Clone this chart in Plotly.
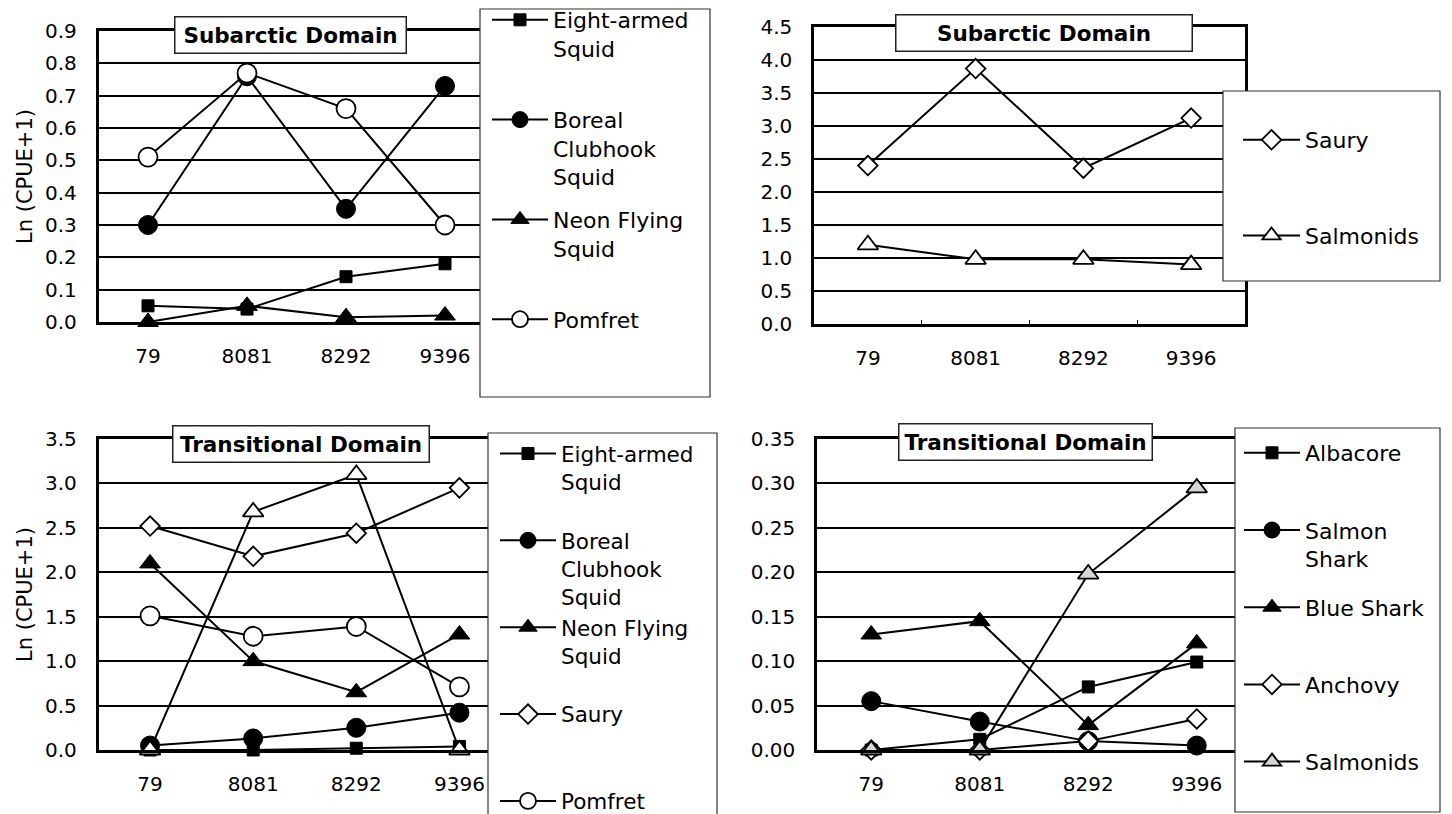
import plotly.graph_objects as go

# ---------------- data ----------------
years = ["79", "8081", "8292", "9396"]

# Panel 1: Subarctic Domain (squids & pomfret)
p1_eight_armed = [0.05, 0.04, 0.14, 0.18]
p1_boreal = [0.30, 0.76, 0.35, 0.73]
p1_neon = [0.0, 0.05, 0.015, 0.02]
p1_pomfret = [0.51, 0.77, 0.66, 0.30]

# Panel 2: Subarctic Domain (saury & salmonids)
p2_saury = [2.40, 3.87, 2.36, 3.12]
p2_salmonids = [1.20, 0.98, 0.98, 0.90]

# Panel 3: Transitional Domain (squids, saury, pomfret)
p3_eight_armed = [0.0, 0.0, 0.02, 0.04]
p3_boreal = [0.05, 0.13, 0.25, 0.42]
p3_neon = [2.10, 1.00, 0.65, 1.30]
p3_saury = [2.52, 2.18, 2.44, 2.95]
p3_pomfret = [1.51, 1.28, 1.39, 0.71]
p3_salmonids = [0.0, 2.68, 3.10, 0.0]

# Panel 4: Transitional Domain (sharks, albacore, anchovy, salmonids)
p4_albacore = [0.0, 0.012, 0.071, 0.099]
p4_salmon_shark = [0.055, 0.032, 0.010, 0.005]
p4_blue_shark = [0.13, 0.145, 0.028, 0.12]
p4_anchovy = [0.0, 0.0, 0.010, 0.035]
p4_salmonids = [0.0, 0.0, 0.198, 0.295]

W, H = 1452, 814
FONT = "DejaVu Sans"


def fx(p):
    return p / W


def fy(p):
    return 1 - p / H


STY = {
    "sq": dict(symbol="square", size=12, color="black", line=dict(color="black", width=1)),
    "ci": dict(symbol="circle", size=19, color="black", line=dict(color="black", width=1)),
    "tr": dict(symbol="triangle-up", size=18, color="black", line=dict(color="black", width=1)),
    "oc": dict(symbol="circle", size=19, color="white", line=dict(color="black", width=1.8)),
    "od": dict(symbol="diamond", size=15, color="white", line=dict(color="black", width=1.8)),
    "ot": dict(symbol="triangle-up", size=18, color="white", line=dict(color="black", width=1.8)),
    "gt": dict(symbol="triangle-up", size=18, color="#d6d6d6", line=dict(color="black", width=1.8)),
}

fig = go.Figure()
gid = [0]


def add(vals, name, sty, n, legend, show=True):
    gid[0] += 1
    fig.add_trace(go.Scatter(
        x=years, y=vals, name=name, mode="lines+markers",
        line=dict(color="black", width=2),
        marker=STY[sty],
        xaxis="x" if n == 1 else f"x{n}",
        yaxis="y" if n == 1 else f"y{n}",
        legend=legend, legendgroup=f"g{gid[0]}", showlegend=show,
        cliponaxis=False,
    ))


add(p1_eight_armed, "Eight-armed<br>Squid<br> ", "sq", 1, "legend")
add(p1_boreal, "Boreal<br>Clubhook<br>Squid", "ci", 1, "legend")
add(p1_neon, "Neon Flying<br>Squid<br> ", "tr", 1, "legend")
add(p1_pomfret, "Pomfret<br> <br> ", "oc", 1, "legend")

add(p2_saury, "Saury", "od", 2, "legend2")
add(p2_salmonids, "Salmonids", "ot", 2, "legend2")

add(p3_eight_armed, "Eight-armed<br>Squid<br> ", "sq", 3, "legend3")
add(p3_boreal, "Boreal<br>Clubhook<br>Squid", "ci", 3, "legend3")
add(p3_neon, "Neon Flying<br>Squid<br> ", "tr", 3, "legend3")
add(p3_saury, "Saury<br> <br> ", "od", 3, "legend3")
add(p3_pomfret, "Pomfret", "oc", 3, "legend3")
add(p3_salmonids, "Salmonids", "ot", 3, "legend3", show=False)

add(p4_albacore, "Albacore<br> ", "sq", 4, "legend4")
add(p4_salmon_shark, "Salmon<br>Shark", "ci", 4, "legend4")
add(p4_blue_shark, "Blue Shark<br> ", "tr", 4, "legend4")
add(p4_anchovy, "Anchovy<br> ", "od", 4, "legend4")
add(p4_salmonids, "Salmonids<br> ", "gt", 4, "legend4")


def xax(dom, anchor, ticks=""):
    return dict(
        domain=[fx(dom[0]), fx(dom[1])], anchor=anchor, type="category",
        range=[-0.5, 3.5], showline=True, mirror=True, linecolor="black",
        linewidth=2.5, showgrid=False, ticks=ticks, tickson="boundaries",
        ticklen=4, tickcolor="black", ticklabelstandoff=14,
        tickfont=dict(family=FONT, size=20, color="black"), zeroline=False,
        fixedrange=True,
    )


def yax(dom, anchor, rng, dtick, fmt):
    return dict(
        domain=[fy(dom[1]), fy(dom[0])], anchor=anchor, range=rng,
        dtick=dtick, tick0=0, tickformat=fmt, showline=True, mirror=True,
        linecolor="black", linewidth=2.5, showgrid=True, gridcolor="black",
        gridwidth=1.5, zeroline=False, ticks="", ticklabelstandoff=15,
        tickfont=dict(family=FONT, size=20, color="black"), fixedrange=True,
    )


def leg(x, y, gap, itemwidth=56, size=22):
    return dict(
        x=fx(x), y=fy(y), xref="paper", yref="paper", xanchor="left",
        yanchor="top", bgcolor="rgba(0,0,0,0)", borderwidth=0,
        font=dict(family=FONT, size=size, color="black"),
        tracegroupgap=gap, itemwidth=itemwidth, valign="top",
        itemclick=False, itemdoubleclick=False,
    )


shapes = []
for (x0, y0, x1, y1) in [(480, 9, 710, 397), (1223, 91, 1440, 281),
                         (488, 433, 717, 840), (1235, 428, 1440, 812)]:
    shapes.append(dict(
        type="rect", xref="paper", yref="paper", x0=fx(x0), x1=fx(x1),
        y0=fy(y1), y1=fy(y0), fillcolor="white",
        line=dict(color="#333333", width=1.2), layer="above",
    ))

annotations = []
for (text, cx, cy, w) in [("Subarctic Domain", 290, 35, 228),
                          ("Subarctic Domain", 1043.5, 33.5, 293),
                          ("Transitional Domain", 300.5, 444, 253),
                          ("Transitional Domain", 1025, 442, 250)]:
    annotations.append(dict(
        text="<b>" + text + "</b>", x=fx(cx), y=fy(cy), xref="paper",
        yref="paper", xanchor="center", yanchor="middle", showarrow=False,
        width=w, height=33, bgcolor="white", bordercolor="#222222",
        borderwidth=1.5, borderpad=1,
        font=dict(family=FONT, size=21.5, color="black"),
    ))
for cy in (177, 595):
    annotations.append(dict(
        text="Ln (CPUE+1)", x=fx(25), y=fy(cy), xref="paper", yref="paper",
        xanchor="center", yanchor="middle", showarrow=False, textangle=-90,
        font=dict(family=FONT, size=21, color="black"),
    ))

fig.update_layout(
    width=W, height=H,
    margin=dict(l=0, r=0, t=0, b=0, autoexpand=False),
    paper_bgcolor="white", plot_bgcolor="white",
    font=dict(family=FONT, color="black"),
    xaxis=xax((98.5, 494.5), "y"),
    yaxis=yax((31, 322), "x", [0, 0.9], 0.1, ".1f"),
    xaxis2=xax((814, 1245), "y2", ticks="inside"),
    yaxis2=yax((27, 324), "x2", [0, 4.5], 0.5, ".1f"),
    xaxis3=xax((98.5, 511), "y3"),
    yaxis3=yax((439, 750), "x3", [0, 3.5], 0.5, ".1f"),
    xaxis4=xax((817, 1251), "y4"),
    yaxis4=yax((439, 750), "x4", [0, 0.35], 0.05, ".2f"),
    legend=leg(487, -1, 11),
    legend2=leg(1238, 119, 64, 57),
    legend3=leg(495, 433, 0, 56, 21.5),
    legend4=leg(1239, 432, 17),
    shapes=shapes,
    annotations=annotations,
    showlegend=True,
)

fig.write_html("out.html", config={"displayModeBar": False},
               post_script="document.body.style.margin='0';")
